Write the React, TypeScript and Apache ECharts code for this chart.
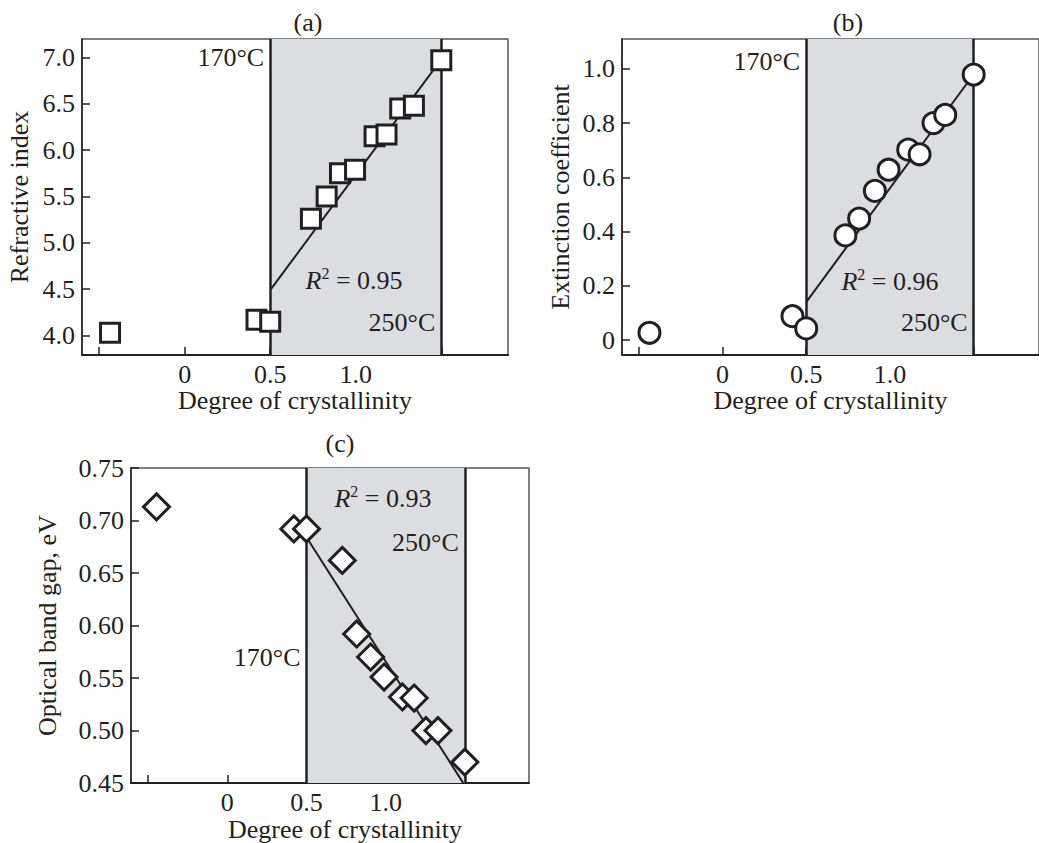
import React, { useEffect, useRef } from "react";
import * as echarts from "echarts";

// ---- data ----
const crystA = [-0.436, 0.42, 0.5, 0.738, 0.83, 0.908, 0.996, 1.11, 1.18, 1.26, 1.34, 1.5];
const refractiveIndex = [4.03, 4.17, 4.15, 5.26, 5.5, 5.75, 5.79, 6.15, 6.17, 6.45, 6.48, 6.97];
const fitA = [[0.5, 4.49], [1.5, 6.98]];

const crystB = [-0.436, 0.418, 0.5, 0.734, 0.816, 0.91, 0.992, 1.109, 1.177, 1.26, 1.33, 1.5];
const extinction = [0.027, 0.088, 0.043, 0.386, 0.448, 0.55, 0.628, 0.702, 0.685, 0.8, 0.83, 0.979];
const fitB = [[0.5, 0.14], [1.5, 0.98]];

const crystC = [-0.447, 0.42, 0.5, 0.726, 0.817, 0.905, 0.99, 1.106, 1.18, 1.254, 1.33, 1.5];
const bandGap = [0.713, 0.692, 0.692, 0.662, 0.592, 0.57, 0.551, 0.532, 0.531, 0.5, 0.5, 0.47];
const fitC = [[0.5, 0.684], [1.49, 0.45]];

const tempBounds = [0.5, 1.5]; // 170°C and 250°C
const xTicks = [-0.5, 0, 0.5, 1.0, 1.5];
const xLabels = [0, 0.5, 1.0];
const yTicksA = [4.0, 4.5, 5.0, 5.5, 6.0, 6.5, 7.0];
const yTicksB = [0, 0.2, 0.4, 0.6, 0.8, 1.0];
const yTicksC = [0.45, 0.5, 0.55, 0.6, 0.65, 0.7, 0.75];

// annotation anchors [x, y, text] (right-aligned to the left of the anchor)
const annotA: [number, number, string][] = [[0.5, 7.0, "170°C"], [1.5, 4.14, "250°C"]];
const annotB: [number, number, string][] = [[0.5, 1.026, "170°C"], [1.5, 0.064, "250°C"]];
const annotC: [number, number, string][] = [[0.5, 0.57, "170°C"], [1.5, 0.679, "250°C"]];
// R² labels [x, y, value] (centred on the anchor)
const r2A: [number, number, string] = [0.99, 4.62, "0.95"];
const r2B: [number, number, string] = [1.0, 0.224, "0.96"];
const r2C: [number, number, string] = [0.983, 0.7228, "0.93"];

const FONT = '"Liberation Serif", "Times New Roman", serif';
const INK = "#231f20";
const FS = 26;

function panel(
  idx: number,
  xs: number[],
  ys: number[],
  fit: number[][],
  symbol: string,
  symbolSize: number,
  xName: string,
  yName: string,
  xMin: number,
  xMax: number,
  yMin: number,
  yMax: number,
  yTicks: number[],
  yFmt: (v: number) => string,
  yNameGap: number,
  xNamePad: number
) {
  const xAxis = {
    type: "value",
    gridIndex: idx,
    min: xMin,
    max: xMax,
    name: xName,
    nameLocation: "middle",
    nameGap: 31,
    nameTextStyle: { fontFamily: FONT, fontSize: FS, color: INK, padding: [0, 0, 0, xNamePad] },
    axisLine: { show: true, onZero: false, lineStyle: { color: INK, width: 2 } },
    axisTick: { show: true, inside: true, length: 8, customValues: xTicks, lineStyle: { color: INK, width: 1.5 } },
    axisLabel: {
      customValues: xLabels,
      margin: 6,
      fontFamily: FONT,
      fontSize: FS,
      color: INK,
      formatter: (v: number) => (v === 0 ? "0" : v.toFixed(1)),
    },
    splitLine: { show: false },
  };
  const yAxis = {
    type: "value",
    gridIndex: idx,
    min: yMin,
    max: yMax,
    name: yName,
    nameLocation: "middle",
    nameGap: yNameGap,
    nameTextStyle: { fontFamily: FONT, fontSize: FS, color: INK },
    axisLine: { show: true, onZero: false, lineStyle: { color: INK, width: 1.5 } },
    axisTick: { show: true, inside: true, length: 8, customValues: yTicks, lineStyle: { color: INK, width: 1.5 } },
    axisLabel: { customValues: yTicks, margin: 7, fontFamily: FONT, fontSize: FS, color: INK, formatter: yFmt },
    splitLine: { show: false },
  };
  const series: any[] = [
    {
      type: "line",
      xAxisIndex: idx,
      yAxisIndex: idx,
      data: fit,
      symbol: "none",
      z: 3,
      lineStyle: { color: INK, width: 2 },
      silent: true,
      markArea: {
        silent: true,
        itemStyle: { color: "#dcdde0" },
        data: [[{ xAxis: tempBounds[0] }, { xAxis: tempBounds[1] }]],
      },
      markLine: {
        silent: true,
        symbol: "none",
        label: { show: false },
        lineStyle: { color: INK, width: 2.5, type: "solid" },
        data: tempBounds.map((b) => ({ xAxis: b })),
      },
    },
    {
      type: "scatter",
      xAxisIndex: idx,
      yAxisIndex: idx,
      data: xs.map((x, i) => [x, ys[i]]),
      symbol,
      symbolSize,
      z: 5,
      itemStyle: { color: "#ffffff", borderColor: INK, borderWidth: 3, opacity: 1 },
    },
  ];
  return { xAxis, yAxis, series };
}

export default function App() {
  const ref = useRef<HTMLDivElement>(null);
  useEffect(() => {
    if (!ref.current) return;
    const chart = echarts.init(ref.current, undefined, { renderer: "svg" });
    const pA = panel(0, crystA, refractiveIndex, fitA, "rect", 19, "Degree of crystallinity", "Refractive index",
      -0.6, 1.89, 3.79, 7.2, yTicksA, (v) => v.toFixed(1), 50, 0);
    const pB = panel(1, crystB, extinction, fitB, "circle", 21, "Degree of crystallinity", "Extinction coefficient",
      -0.6, 1.89, -0.055, 1.11, yTicksB, (v) => (v === 0 ? "0" : v.toFixed(1)), 49, 0);
    const pC = panel(2, crystC, bandGap, fitC, "diamond", 26, "Degree of crystallinity", "Optical band gap, eV",
      -0.608, 1.905, 0.45, 0.75, yTicksC, (v) => v.toFixed(2), 71, 30);

    const gridStyle = { show: true, borderColor: "#555", borderWidth: 1.5, backgroundColor: "transparent", containLabel: false };
    const titleStyle = (t: string) => ({
      text: t, font: `${FS}px ${FONT}`, fill: INK,
      align: "center", verticalAlign: "middle", textAlign: "center", textVerticalAlign: "middle",
    });
    chart.setOption({
      animation: false,
      backgroundColor: "#ffffff",
      grid: [
        { ...gridStyle, left: 82, top: 39, width: 426, height: 316 },
        { ...gridStyle, left: 622, top: 39, width: 425, height: 316 },
        { ...gridStyle, left: 131, top: 468, width: 398, height: 316 },
      ],
      xAxis: [pA.xAxis, pB.xAxis, pC.xAxis],
      yAxis: [pA.yAxis, pB.yAxis, pC.yAxis],
      series: [...pA.series, ...pB.series, ...pC.series],
    });

    // annotations placed through the axes' own scales
    const graphics: any[] = [
      { type: "text", x: 308, y: 22, style: titleStyle("(a)") },
      { type: "text", x: 848, y: 22, style: titleStyle("(b)") },
      { type: "text", x: 340, y: 443, style: titleStyle("(c)") },
    ];
    const annots = [annotA, annotB, annotC];
    const r2s = [r2A, r2B, r2C];
    annots.forEach((list, gi) => {
      list.forEach(([x, y, t]) => {
        const p = chart.convertToPixel({ gridIndex: gi } as any, [x, y]) as number[];
        graphics.push({
          type: "text", x: p[0] - 6, y: p[1], z: 10,
          style: { text: t, font: `${FS}px ${FONT}`, fill: INK, align: "right", verticalAlign: "middle", textAlign: "right", textVerticalAlign: "middle" },
        });
      });
      const [rx, ry, rv] = r2s[gi];
      const q = chart.convertToPixel({ gridIndex: gi } as any, [rx, ry]) as number[];
      graphics.push({
        type: "text", x: q[0], y: q[1], z: 10,
        style: {
          text: `{i|R}{s|2}{n| = ${rv}}`,
          align: "center", verticalAlign: "middle", textAlign: "center", textVerticalAlign: "middle",
          rich: {
            i: { fontFamily: FONT, fontSize: FS, fontStyle: "italic", fill: INK, color: INK, lineHeight: 30, verticalAlign: "bottom" },
            s: { fontFamily: FONT, fontSize: 16, fill: INK, color: INK, lineHeight: 30, verticalAlign: "top", padding: [2, 0, 0, 0] },
            n: { fontFamily: FONT, fontSize: FS, fill: INK, color: INK, lineHeight: 30, verticalAlign: "bottom" },
          },
        },
      });
    });
    chart.setOption({ graphic: graphics });
    return () => chart.dispose();
  }, []);
  return <div ref={ref} style={{ position: "absolute", left: 0, top: 0, width: 1039, height: 843 }} />;
}
